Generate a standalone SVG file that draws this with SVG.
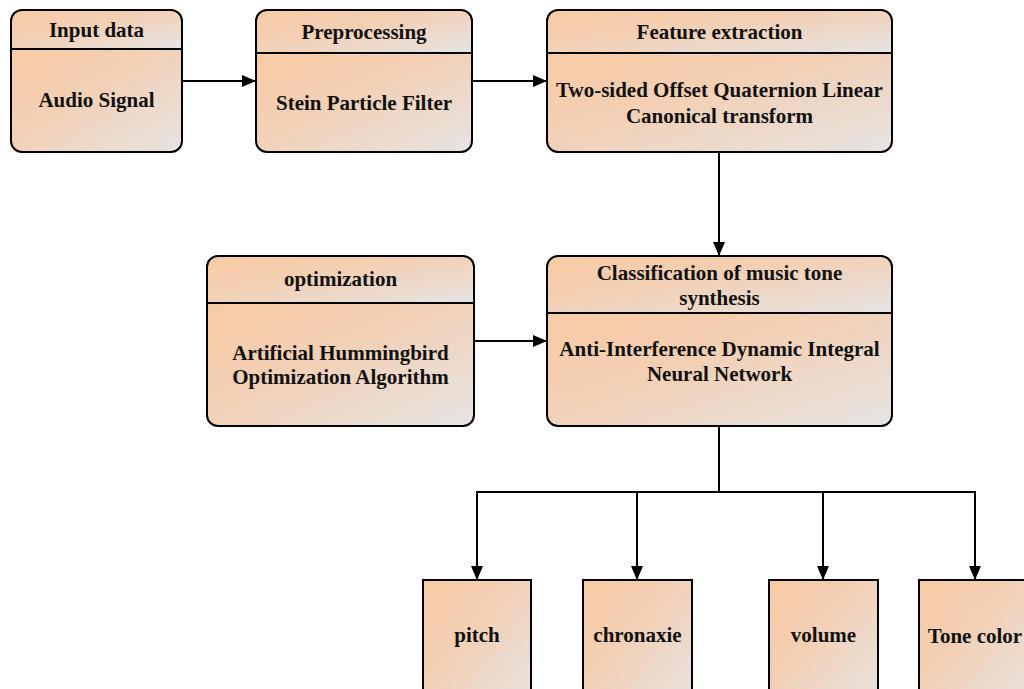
<svg xmlns="http://www.w3.org/2000/svg" width="1024" height="689" viewBox="0 0 1024 689">
<defs>
<linearGradient id="g" x1="0" y1="0" x2="1" y2="1">
<stop offset="0" stop-color="#F8CBA4"/>
<stop offset="0.4" stop-color="#F3CFB3"/>
<stop offset="1" stop-color="#E6E4E3"/>
</linearGradient>
<marker id="arr" markerUnits="userSpaceOnUse" markerWidth="14" markerHeight="12" refX="14" refY="6" orient="auto">
<path d="M0,0 L14,6 L0,12 z" fill="#000"/>
</marker>
</defs>
<style>
.sec{fill:url(#g);stroke:none}
.out{fill:none;stroke:#000;stroke-width:2}
.div{stroke:#000;stroke-width:2}
.box{fill:url(#g);stroke:#000;stroke-width:2}
.t{font-family:"Liberation Serif","Times New Roman",serif;font-weight:bold;font-size:21px;fill:#111;text-anchor:middle}
.c{fill:none;stroke:#000;stroke-width:2}
</style>
<rect width="1024" height="689" fill="#fff"/>

<g id="input">
<path class="sec" d="M11,49 V21 Q11,10 22,10 H171 Q182,10 182,21 V49 Z"/>
<path class="sec" d="M11,49 H182 V141 Q182,152 171,152 H22 Q11,152 11,141 Z"/>
<rect class="out" x="11" y="10" width="171" height="142" rx="11"/>
<line class="div" x1="11" y1="49" x2="182" y2="49"/>
<text class="t" x="96.5" y="37">Input data</text>
<text class="t" x="96.5" y="107">Audio Signal</text>
</g>

<g id="preprocessing">
<path class="sec" d="M256,53 V21 Q256,10 267,10 H461 Q472,10 472,21 V53 Z"/>
<path class="sec" d="M256,53 H472 V141 Q472,152 461,152 H267 Q256,152 256,141 Z"/>
<rect class="out" x="256" y="10" width="216" height="142" rx="11"/>
<line class="div" x1="256" y1="53" x2="472" y2="53"/>
<text class="t" x="364" y="39">Preprocessing</text>
<text class="t" x="364" y="110">Stein Particle Filter</text>
</g>

<g id="feature">
<path class="sec" d="M547,53 V21 Q547,10 558,10 H881 Q892,10 892,21 V53 Z"/>
<path class="sec" d="M547,53 H892 V141 Q892,152 881,152 H558 Q547,152 547,141 Z"/>
<rect class="out" x="547" y="10" width="345" height="142" rx="11"/>
<line class="div" x1="547" y1="53" x2="892" y2="53"/>
<text class="t" x="719.5" y="39">Feature extraction</text>
<text class="t" x="719.5" y="97">Two-sided Offset Quaternion Linear</text>
<text class="t" x="719.5" y="123">Canonical transform</text>
</g>

<g id="optimization">
<path class="sec" d="M207,303 V267 Q207,256 218,256 H463 Q474,256 474,267 V303 Z"/>
<path class="sec" d="M207,303 H474 V415 Q474,426 463,426 H218 Q207,426 207,415 Z"/>
<rect class="out" x="207" y="256" width="267" height="170" rx="11"/>
<line class="div" x1="207" y1="303" x2="474" y2="303"/>
<text class="t" x="340.5" y="286">optimization</text>
<text class="t" x="340.5" y="360">Artificial Hummingbird</text>
<text class="t" x="340.5" y="384">Optimization Algorithm</text>
</g>

<g id="classification">
<path class="sec" d="M547,313 V267 Q547,256 558,256 H881 Q892,256 892,267 V313 Z"/>
<path class="sec" d="M547,313 H892 V415 Q892,426 881,426 H558 Q547,426 547,415 Z"/>
<rect class="out" x="547" y="256" width="345" height="170" rx="11"/>
<line class="div" x1="547" y1="313" x2="892" y2="313"/>
<text class="t" x="719.5" y="280">Classification of music tone</text>
<text class="t" x="719.5" y="305">synthesis</text>
<text class="t" x="719.5" y="356">Anti-Interference Dynamic Integral</text>
<text class="t" x="719.5" y="381">Neural Network</text>
</g>

<g id="pitch">
<rect class="box" x="423" y="580" width="108" height="130"/>
<text class="t" x="477" y="642">pitch</text>
</g>
<g id="chronaxie">
<rect class="box" x="583" y="580" width="109" height="130"/>
<text class="t" x="637.5" y="642">chronaxie</text>
</g>
<g id="volume">
<rect class="box" x="769" y="580" width="109" height="130"/>
<text class="t" x="823.5" y="642">volume</text>
</g>
<g id="tonecolor">
<rect class="box" x="919" y="580" width="112" height="130"/>
<text class="t" x="975" y="643">Tone color</text>
</g>

<g id="connectors">
<path class="c" d="M182,81 H256" marker-end="url(#arr)"/>
<path class="c" d="M472,81 H547" marker-end="url(#arr)"/>
<path class="c" d="M719,152 V256" marker-end="url(#arr)"/>
<path class="c" d="M474,341 H547" marker-end="url(#arr)"/>
<path class="c" d="M719,426 V492 H477 V580" marker-end="url(#arr)"/>
<path class="c" d="M719,492 H637 V580" marker-end="url(#arr)"/>
<path class="c" d="M719,492 H823 V580" marker-end="url(#arr)"/>
<path class="c" d="M719,492 H975 V580" marker-end="url(#arr)"/>
</g>
</svg>
